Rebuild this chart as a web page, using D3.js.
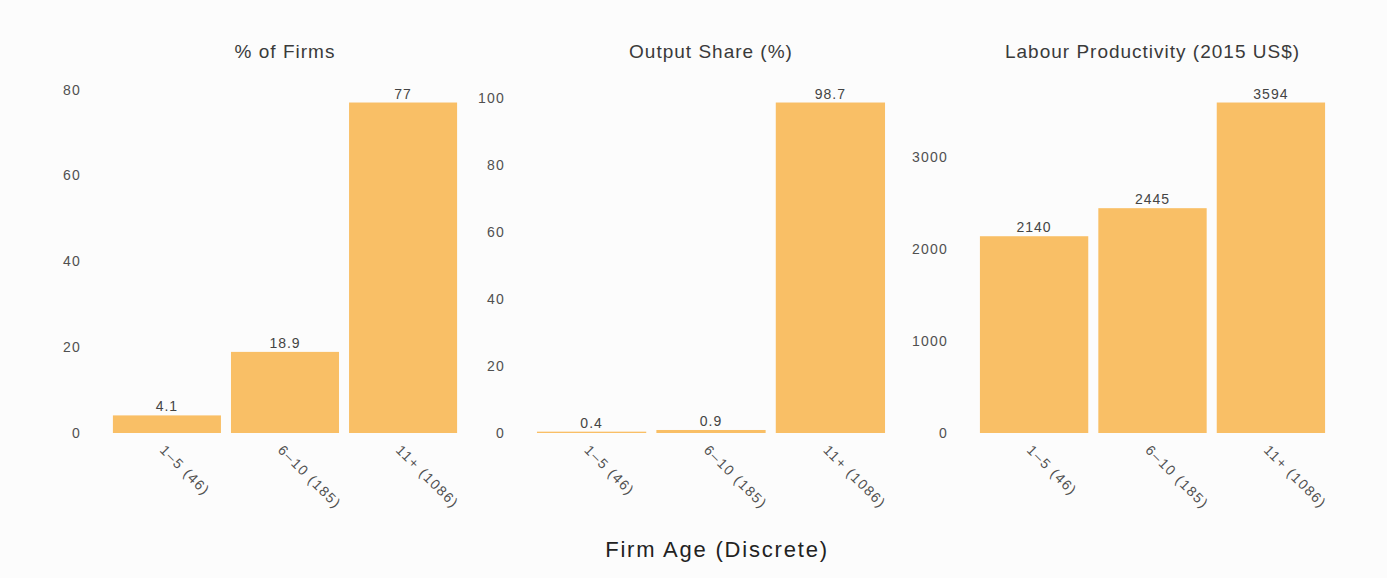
<!DOCTYPE html>
<html>
<head>
<meta charset="utf-8">
<script src="https://cdn.jsdelivr.net/npm/d3@7"></script>
<style>
  html, body { margin: 0; padding: 0; background: #fcfcfc; }
  svg { display: block; font-family: "Liberation Sans", Arial, sans-serif; }
</style>
</head>
<body>
<svg id="chart" width="1387" height="578"></svg>
<script>
// Firm age groups (with firm counts)
const categories = ["1–5 (46)", "6–10 (185)", "11+ (1086)"];

// One series per panel
const pctFirms = [4.1, 18.9, 77];
const outputShare = [0.4, 0.9, 98.7];
const labourProductivity = [2140, 2445, 3594];

const panelTitles = ["% of Firms", "Output Share (%)", "Labour Productivity (2015 US$)"];
const tickValues = [
  [0, 20, 40, 60, 80],
  [0, 20, 40, 60, 80, 100],
  [0, 1000, 2000, 3000]
];
const valueLabels = [
  ["4.1", "18.9", "77"],
  ["0.4", "0.9", "98.7"],
  ["2140", "2445", "3594"]
];
const xAxisTitle = "Firm Age (Discrete)";

const panels = [
  { values: pctFirms, x0: 107, x1: 463 },
  { values: outputShare, x0: 531, x1: 891 },
  { values: labourProductivity, x0: 974, x1: 1331 }
];

const svg = d3.select("#chart");
svg.append("rect").attr("width", 1387).attr("height", 578).attr("fill", "#fcfcfc");

const yBottom = 433, yTop = 86;
const barColor = "#f9bf66";
const textColor = "#505050";

panels.forEach((p, i) => {
  const x = d3.scaleBand().domain(categories).range([p.x0, p.x1])
    .paddingInner(0.085).paddingOuter(0.05);
  const y = d3.scaleLinear().domain([0, d3.max(p.values) * 1.05]).range([yBottom, yTop]);

  const g = svg.append("g");

  // bars
  g.selectAll("rect.bar").data(p.values).join("rect")
    .attr("class", "bar")
    .attr("x", (d, j) => x(categories[j]))
    .attr("width", x.bandwidth())
    .attr("y", d => y(d))
    .attr("height", d => y(0) - y(d))
    .attr("fill", barColor);

  // value labels above bars
  g.selectAll("text.val").data(p.values).join("text")
    .attr("class", "val")
    .attr("x", (d, j) => x(categories[j]) + x.bandwidth() / 2)
    .attr("y", d => y(d) - 4)
    .attr("text-anchor", "middle")
    .attr("font-size", 14)
    .style("letter-spacing", "1px")
    .attr("fill", "#444")
    .text((d, j) => valueLabels[i][j]);

  // y axis (labels only)
  const yAxis = d3.axisLeft(y).tickValues(tickValues[i]).tickSize(0).tickPadding(0).tickFormat(d3.format("d"));
  const ya = g.append("g").attr("transform", `translate(${p.x0 - 26},0)`).call(yAxis);
  ya.select(".domain").remove();
  ya.selectAll("text").attr("font-size", 14).attr("fill", textColor)
    .style("letter-spacing", "1.2px")
    .attr("font-family", "Liberation Sans, Arial, sans-serif");

  // x axis (rotated labels only)
  const xAxis = d3.axisBottom(x).tickSize(0).tickPadding(0);
  const xa = g.append("g").attr("transform", `translate(0,${yBottom})`).call(xAxis);
  xa.select(".domain").remove();
  xa.selectAll("text")
    .attr("font-size", 14).attr("fill", textColor)
    .style("letter-spacing", "1.5px")
    .attr("font-family", "Liberation Sans, Arial, sans-serif")
    .attr("text-anchor", "start")
    .attr("dy", null)
    .attr("transform", "translate(-8,18) rotate(45)");

  // panel title
  g.append("text")
    .attr("x", (p.x0 + p.x1) / 2)
    .attr("y", 58)
    .attr("text-anchor", "middle")
    .attr("font-size", 19)
    .style("letter-spacing", "1px")
    .attr("fill", "#3a3a3a")
    .text(panelTitles[i]);
});

// shared x axis title
svg.append("text")
  .attr("x", 717)
  .attr("y", 557)
  .attr("text-anchor", "middle")
  .attr("font-size", 22)
  .style("letter-spacing", "1.8px")
  .attr("fill", "#222")
  .text(xAxisTitle);
</script>
</body>
</html>
